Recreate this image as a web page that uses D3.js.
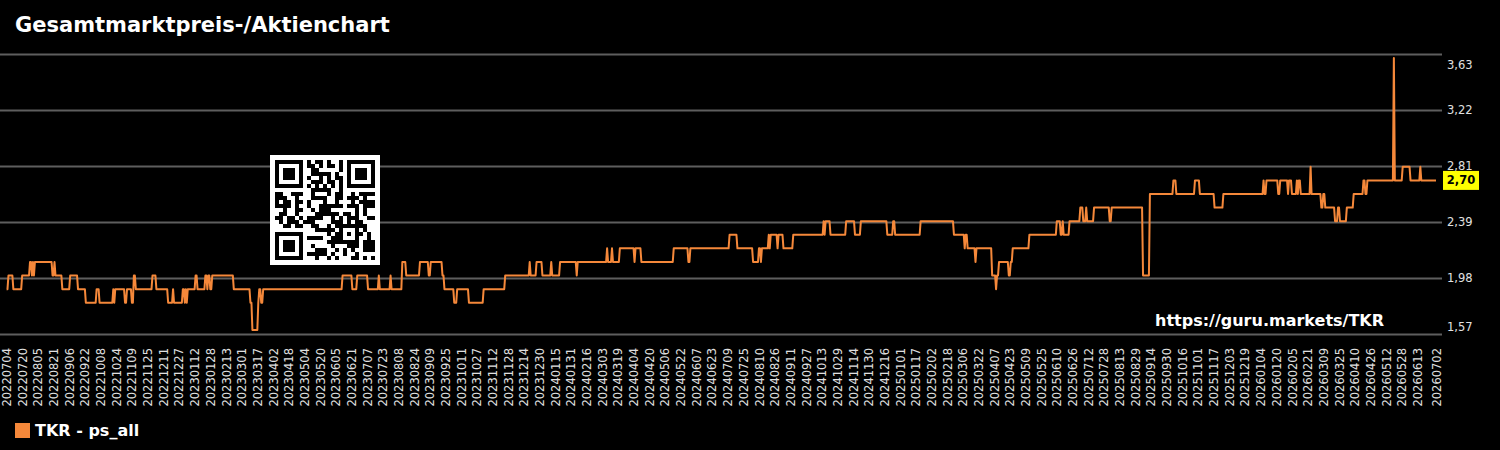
<!DOCTYPE html>
<html>
<head>
<meta charset="utf-8">
<script src="https://cdn.jsdelivr.net/npm/d3@7"></script>
<style>
  html, body { margin: 0; padding: 0; background: #000; }
  svg { display: block; font-family: "DejaVu Sans", sans-serif; }
</style>
</head>
<body>
<div id="chart"></div>
<script>
// price series, stored as change points (day offset from first date -> new price)
var firstDate = new Date(Date.UTC(2022, 6, 4));
var lastDay = 1459; // 20260702
var changeDay = [0, 2, 7, 16, 24, 26, 27, 28, 29, 47, 49, 50, 57, 65, 73, 81, 92, 95, 109, 110,
  111, 121, 123, 128, 130, 132, 149, 153, 165, 170, 171, 180, 182, 183, 184, 185, 193, 195, 203, 205,
  206, 208, 210, 232, 249, 251, 257, 258, 260, 262, 343, 353, 358, 369, 380, 381, 392, 393, 404, 408,
  422, 431, 433, 445, 447, 457, 460, 472, 487, 509, 534, 535, 541, 547, 556, 557, 565, 582, 583, 613,
  614, 618, 619, 626, 641, 642, 648, 681, 696, 698, 738, 746, 762, 768, 770, 771, 778, 779, 780, 787,
  788, 793, 803, 834, 835, 836, 841, 857, 866, 872, 899, 905, 907, 933, 967, 978, 979, 981, 989, 990,
  1006, 1010, 1011, 1013, 1023, 1025, 1027, 1044, 1072, 1076, 1078, 1079, 1085, 1096, 1099, 1102, 1103, 1110, 1126, 1128,
  1160, 1167, 1191, 1194, 1213, 1218, 1233, 1242, 1283, 1284, 1286, 1298, 1300, 1308, 1309, 1312, 1317, 1318, 1319, 1321,
  1331, 1332, 1342, 1344, 1346, 1356, 1359, 1361, 1368, 1375, 1385, 1387, 1389, 1416, 1417, 1425, 1433, 1443, 1444];
var changeValue = [1.9, 2.0, 1.9, 2.0, 2.1, 2.0, 2.1, 2.0, 2.1, 2.0, 2.1, 2.0, 1.9, 2.0, 1.9, 1.8, 1.9, 1.8, 1.9, 1.8,
  1.9, 1.8, 1.9, 1.8, 2.0, 1.9, 2.0, 1.9, 1.8, 1.9, 1.8, 1.9, 1.8, 1.9, 1.8, 1.9, 2.0, 1.9, 2.0, 1.9,
  2.0, 1.9, 2.0, 1.9, 1.8, 1.6, 1.8, 1.9, 1.8, 1.9, 2.0, 1.9, 2.0, 1.9, 2.0, 1.9, 2.0, 1.9, 2.1, 2.0,
  2.1, 2.0, 2.1, 2.0, 1.9, 1.8, 1.9, 1.8, 1.9, 2.0, 2.1, 2.0, 2.1, 2.0, 2.1, 2.0, 2.1, 2.0, 2.1, 2.2,
  2.1, 2.2, 2.1, 2.2, 2.1, 2.2, 2.1, 2.2, 2.1, 2.2, 2.3, 2.2, 2.1, 2.2, 2.1, 2.2, 2.3, 2.2, 2.3, 2.2,
  2.3, 2.2, 2.3, 2.4, 2.3, 2.4, 2.3, 2.4, 2.3, 2.4, 2.3, 2.4, 2.3, 2.4, 2.3, 2.2, 2.3, 2.2, 2.1, 2.2,
  2.0, 1.9, 2.0, 2.1, 2.0, 2.1, 2.2, 2.3, 2.4, 2.3, 2.4, 2.3, 2.4, 2.5, 2.4, 2.5, 2.4, 2.5, 2.4, 2.5,
  2.0, 2.6, 2.7, 2.6, 2.7, 2.6, 2.5, 2.6, 2.7, 2.6, 2.7, 2.6, 2.7, 2.6, 2.7, 2.6, 2.7, 2.6, 2.7, 2.6,
  2.8, 2.6, 2.5, 2.6, 2.5, 2.4, 2.5, 2.4, 2.5, 2.6, 2.7, 2.6, 2.7, 3.6, 2.7, 2.8, 2.7, 2.8, 2.7];

var yTicks = [1.57, 1.982, 2.394, 2.806, 3.218, 3.63];
var tickStep = 16; // days between date labels

var seriesName = "TKR - ps_all";
var lineColor = "#f5883a";
var fontFamily = "'DejaVu Sans', sans-serif";

var width = 1500, height = 450;

var svg = d3.select("#chart").append("svg")
    .attr("width", width)
    .attr("height", height)
    .style("background", "#000");

// expand change points into one point per day
var data = [];
var k = 0;
for (var d = 0; d <= lastDay; d++) {
  while (k + 1 < changeDay.length && changeDay[k + 1] <= d) k++;
  data.push({ day: d, value: changeValue[k] });
}

var x = d3.scaleLinear().domain([0, lastDay]).range([6.5, 1436]);
var y = d3.scaleLinear().domain([1.57, 3.63]).range([334, 54]);

var fmtDate = d3.utcFormat("%Y%m%d");
var fmtNum = function(v) { return d3.format(".2f")(v).replace(".", ","); };

// title
svg.append("text")
    .attr("x", 15)
    .attr("y", 32)
    .attr("fill", "#fff")
    .style("font-size", "21px")
    .style("font-weight", "bold")
    .text("Gesamtmarktpreis-/Aktienchart");

// grid + right axis
var yAxis = svg.append("g")
    .attr("transform", "translate(1442,0)")
    .call(d3.axisRight(y)
      .tickValues(yTicks)
      .tickSizeInner(-1442)
      .tickSizeOuter(0)
      .tickPadding(5)
      .tickFormat(fmtNum));
yAxis.attr("font-family", fontFamily).attr("font-size", 11.5);
yAxis.select(".domain").remove();
yAxis.selectAll("line").attr("stroke", "#5e5e5e").attr("stroke-width", 2);
yAxis.selectAll("text")
    .attr("fill", "#e0e0e0")
    .attr("dy", function(v, i) {
      if (i === 0) return "-4px";
      if (i === yTicks.length - 1) return "14px";
      return "0.32em";
    });

// date axis: every 16 days, plus the last date
var tickDays = d3.range(0, lastDay - tickStep + 1, tickStep);
tickDays.push(lastDay);

var xAxis = svg.append("g")
    .attr("transform", "translate(0,340)")
    .call(d3.axisBottom(x)
      .tickValues(tickDays)
      .tickSize(0)
      .tickFormat(function(v) { return fmtDate(d3.utcDay.offset(firstDate, v)); }));
xAxis.attr("font-family", fontFamily).attr("font-size", 11.5);
xAxis.select(".domain").remove();
xAxis.selectAll("text")
    .attr("transform", "rotate(-90)")
    .attr("x", -8)
    .attr("y", 0)
    .attr("dy", "0.35em")
    .attr("fill", "#e0e0e0")
    .style("text-anchor", "end");

// QR code box (decoration)
var qrN = 25, qrCell = 4, qrX = 270, qrY = 155;
function qrDark(r, c) {
  var corners = [[0, 0], [0, 18], [18, 0]];
  for (var i = 0; i < corners.length; i++) {
    var dr = r - corners[i][0], dc = c - corners[i][1];
    if (dr >= -1 && dr <= 7 && dc >= -1 && dc <= 7) {
      if (dr < 0 || dr > 6 || dc < 0 || dc > 6) return false;
      return Math.max(Math.abs(dr - 3), Math.abs(dc - 3)) !== 2;
    }
  }
  if (r >= 16 && r <= 20 && c >= 16 && c <= 20) {
    return Math.max(Math.abs(r - 18), Math.abs(c - 18)) !== 1;
  }
  if (r === 6) return c % 2 === 0;
  if (c === 6) return r % 2 === 0;
  var h = Math.imul(r * 131 + 7, 2654435761) ^ Math.imul(c * 197 + 3, 40503);
  h = Math.imul(h ^ (h >>> 15), 2246822519);
  return ((h >>> 13) & 1) === 1;
}
var qrCells = [];
for (var r = 0; r < qrN; r++) for (var c = 0; c < qrN; c++) if (qrDark(r, c)) qrCells.push([r, c]);

var qr = svg.append("g").attr("transform", "translate(" + qrX + "," + qrY + ")");
qr.append("rect").attr("width", 110).attr("height", 110).attr("fill", "#fff");
qr.selectAll("rect.m")
  .data(qrCells)
  .enter().append("rect")
    .attr("class", "m")
    .attr("x", function(p) { return 5 + p[1] * qrCell; })
    .attr("y", function(p) { return 5 + p[0] * qrCell; })
    .attr("width", qrCell)
    .attr("height", qrCell)
    .attr("fill", "#000");

// watermark
svg.append("text")
    .attr("x", 1155)
    .attr("y", 326)
    .attr("fill", "#fff")
    .style("font-size", "16px")
    .style("font-weight", "bold")
    .text("https://guru.markets/TKR");

// price line
var line = d3.line()
    .x(function(p) { return x(p.day); })
    .y(function(p) { return y(p.value); });

svg.append("path")
    .datum(data)
    .attr("fill", "none")
    .attr("stroke", lineColor)
    .attr("stroke-width", 2)
    .attr("stroke-linejoin", "round")
    .attr("d", line);

// last value label
var last = data[data.length - 1];
var lbl = svg.append("g").attr("transform", "translate(1443," + (y(last.value) - 9.5) + ")");
lbl.append("rect")
    .attr("width", 36)
    .attr("height", 19)
    .attr("fill", "#ffff00");
lbl.append("text")
    .attr("x", 18)
    .attr("y", 13.5)
    .attr("text-anchor", "middle")
    .attr("fill", "#000")
    .style("font-size", "11.5px")
    .style("font-weight", "bold")
    .text(fmtNum(last.value));

// legend
svg.append("rect")
    .attr("x", 15)
    .attr("y", 423)
    .attr("width", 15)
    .attr("height", 15)
    .attr("fill", lineColor);
svg.append("text")
    .attr("x", 35)
    .attr("y", 436)
    .attr("fill", "#fff")
    .style("font-size", "16px")
    .style("font-weight", "bold")
    .text(seriesName);
</script>
</body>
</html>
